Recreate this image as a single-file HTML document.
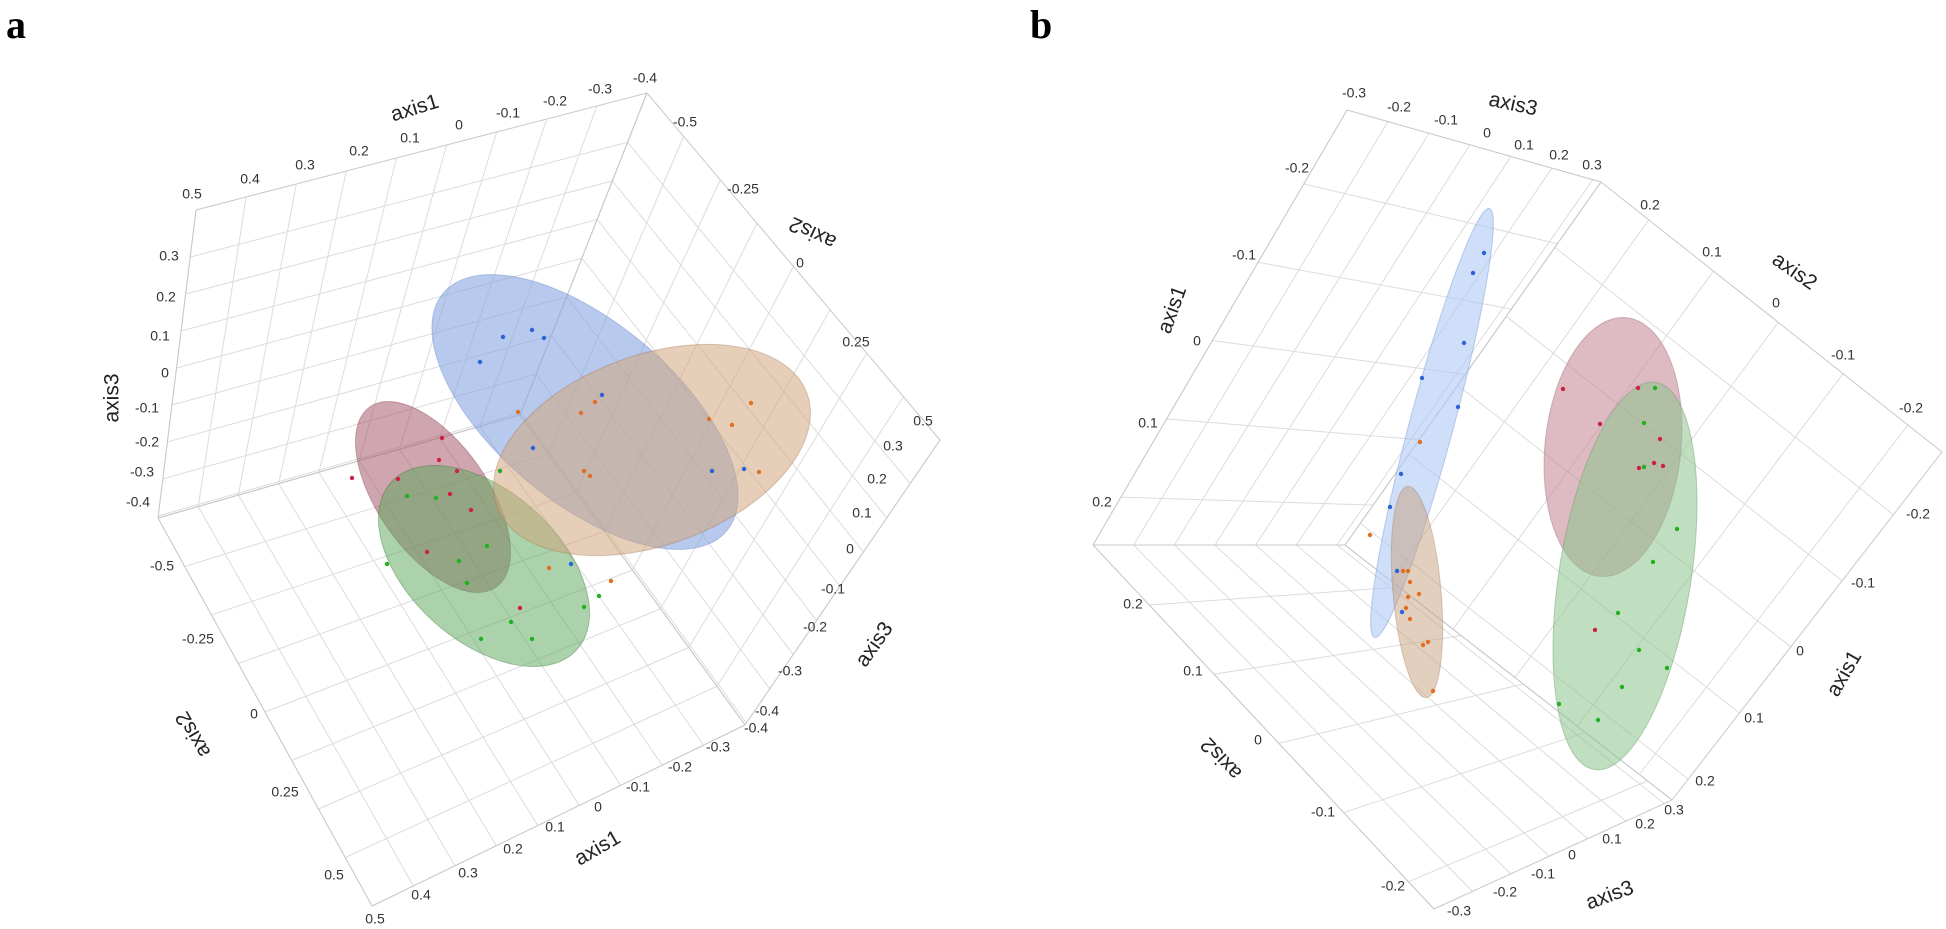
<!DOCTYPE html>
<html><head><meta charset="utf-8">
<style>
html,body{margin:0;padding:0;background:#fff;}
svg{display:block;}
text{font-family:"Liberation Sans",sans-serif;}
.t{font-size:14px;fill:#333;text-anchor:middle;dominant-baseline:middle;}
.ax{font-size:21px;fill:#222;text-anchor:middle;dominant-baseline:middle;}
.pl{font-family:"Liberation Serif",serif;font-weight:bold;font-size:40px;fill:#000;}
</style></head>
<body>
<svg id="s" width="1946" height="929" viewBox="0 0 1946 929" xmlns="http://www.w3.org/2000/svg">
<g id="grid" stroke="#dcdcdc" stroke-width="1" fill="none"></g>
<text class="pl" x="6" y="38">a</text>
<text class="pl" x="1030" y="38">b</text>

<!-- Panel a ellipsoids -->
<g stroke-width="1">
<ellipse cx="433" cy="497" rx="110" ry="55" transform="rotate(55 433 497)" fill="rgba(160,75,95,0.5)" stroke="rgba(120,50,60,0.35)"/>
<ellipse cx="484" cy="566" rx="125" ry="75" transform="rotate(42 484 566)" fill="rgba(90,165,90,0.5)" stroke="rgba(50,110,50,0.35)"/>
<ellipse cx="585" cy="412" rx="185" ry="90" transform="rotate(40 585 412)" fill="rgba(135,165,225,0.6)" stroke="rgba(90,120,190,0.35)"/>
<ellipse cx="652" cy="450" rx="165" ry="95" transform="rotate(-20 652 450)" fill="rgba(210,165,125,0.55)" stroke="rgba(160,110,80,0.35)"/>
</g>
<!-- Panel b ellipsoids -->
<g stroke-width="1">
<ellipse cx="1432" cy="423" rx="222" ry="22" transform="rotate(105 1432 423)" fill="rgba(175,200,245,0.6)" stroke="rgba(130,160,215,0.5)"/>
<ellipse cx="1417" cy="592" rx="106" ry="24" transform="rotate(85 1417 592)" fill="rgba(200,160,125,0.5)" stroke="rgba(160,130,100,0.4)"/>
<ellipse cx="1613" cy="447" rx="68" ry="130" transform="rotate(6 1613 447)" fill="rgba(195,130,145,0.55)" stroke="rgba(150,100,110,0.4)"/>
<ellipse cx="1625" cy="576" rx="66" ry="196" transform="rotate(9 1625 576)" fill="rgba(140,195,140,0.55)" stroke="rgba(100,150,100,0.4)"/>
</g>
<g id="dots"></g>

<!-- Panel a labels -->
<text class="ax" transform="translate(415,109) rotate(-17)">axis1</text>
<text class="t" x="192" y="195">0.5</text><text class="t" x="250" y="180">0.4</text><text class="t" x="305" y="166">0.3</text><text class="t" x="359" y="152">0.2</text><text class="t" x="410" y="139">0.1</text><text class="t" x="459" y="126">0</text><text class="t" x="508" y="114">-0.1</text><text class="t" x="555" y="102">-0.2</text><text class="t" x="600" y="90">-0.3</text><text class="t" x="645" y="79">-0.4</text>
<text class="ax" transform="translate(113,398) rotate(-90)">axis3</text>
<text class="t" x="169" y="257">0.3</text><text class="t" x="166" y="298">0.2</text><text class="t" x="160" y="337">0.1</text><text class="t" x="165" y="374">0</text><text class="t" x="147" y="409">-0.1</text><text class="t" x="147" y="443">-0.2</text><text class="t" x="142" y="473">-0.3</text><text class="t" x="138" y="503">-0.4</text>
<text class="ax" transform="translate(813,232) rotate(205)">axis2</text>
<text class="t" x="685" y="123">-0.5</text><text class="t" x="743" y="190">-0.25</text><text class="t" x="800" y="264">0</text><text class="t" x="856" y="343">0.25</text><text class="t" x="923" y="422">0.5</text>
<text class="ax" transform="translate(875,645) rotate(-55)">axis3</text>
<text class="t" x="893" y="447">0.3</text><text class="t" x="877" y="480">0.2</text><text class="t" x="862" y="514">0.1</text><text class="t" x="850" y="550">0</text><text class="t" x="833" y="590">-0.1</text><text class="t" x="815" y="628">-0.2</text><text class="t" x="790" y="672">-0.3</text><text class="t" x="767" y="712">-0.4</text>
<text class="ax" transform="translate(194,734) rotate(240)">axis2</text>
<text class="t" x="162" y="567">-0.5</text><text class="t" x="198" y="640">-0.25</text><text class="t" x="254" y="715">0</text><text class="t" x="285" y="793">0.25</text><text class="t" x="334" y="876">0.5</text>
<text class="ax" transform="translate(598,849) rotate(-30)">axis1</text>
<text class="t" x="375" y="920">0.5</text><text class="t" x="421" y="896">0.4</text><text class="t" x="468" y="874">0.3</text><text class="t" x="513" y="850">0.2</text><text class="t" x="555" y="828">0.1</text><text class="t" x="598" y="808">0</text><text class="t" x="638" y="788">-0.1</text><text class="t" x="680" y="768">-0.2</text><text class="t" x="718" y="748">-0.3</text><text class="t" x="756" y="729">-0.4</text>

<!-- Panel b labels -->
<text class="ax" transform="translate(1513,105) rotate(12)">axis3</text>
<text class="t" x="1354" y="94">-0.3</text><text class="t" x="1399" y="108">-0.2</text><text class="t" x="1446" y="121">-0.1</text><text class="t" x="1487" y="134">0</text><text class="t" x="1524" y="146">0.1</text><text class="t" x="1559" y="156">0.2</text><text class="t" x="1592" y="166">0.3</text>
<text class="ax" transform="translate(1173,310) rotate(-70)">axis1</text>
<text class="t" x="1297" y="169">-0.2</text><text class="t" x="1244" y="256">-0.1</text><text class="t" x="1197" y="342">0</text><text class="t" x="1148" y="424">0.1</text><text class="t" x="1102" y="503">0.2</text>
<text class="ax" transform="translate(1794,272) rotate(35)">axis2</text>
<text class="t" x="1650" y="206">0.2</text><text class="t" x="1712" y="253">0.1</text><text class="t" x="1776" y="304">0</text><text class="t" x="1843" y="356">-0.1</text><text class="t" x="1911" y="409">-0.2</text>
<text class="ax" transform="translate(1845,674) rotate(-60)">axis1</text>
<text class="t" x="1918" y="515">-0.2</text><text class="t" x="1863" y="584">-0.1</text><text class="t" x="1800" y="652">0</text><text class="t" x="1754" y="719">0.1</text><text class="t" x="1705" y="782">0.2</text>
<text class="ax" transform="translate(1222,758) rotate(227)">axis2</text>
<text class="t" x="1133" y="605">0.2</text><text class="t" x="1193" y="672">0.1</text><text class="t" x="1258" y="741">0</text><text class="t" x="1323" y="813">-0.1</text><text class="t" x="1393" y="887">-0.2</text>
<text class="ax" transform="translate(1610,896) rotate(-20)">axis3</text>
<text class="t" x="1674" y="811">0.3</text><text class="t" x="1645" y="825">0.2</text><text class="t" x="1612" y="840">0.1</text><text class="t" x="1572" y="856">0</text><text class="t" x="1543" y="875">-0.1</text><text class="t" x="1505" y="893">-0.2</text><text class="t" x="1459" y="912">-0.3</text>
</svg>
<script>
(function(){
var NS="http://www.w3.org/2000/svg",g=document.getElementById("grid");
function L(a,b,c){var l=document.createElementNS(NS,"line");l.setAttribute("x1",a[0]);l.setAttribute("y1",a[1]);l.setAttribute("x2",b[0]);l.setAttribute("y2",b[1]);if(c)l.setAttribute("stroke",c);g.appendChild(l);}
function P(p00,p10,p01,p11,u,v){return[(1-u)*(1-v)*p00[0]+u*(1-v)*p10[0]+(1-u)*v*p01[0]+u*v*p11[0],(1-u)*(1-v)*p00[1]+u*(1-v)*p10[1]+(1-u)*v*p01[1]+u*v*p11[1]];}
function wall(p00,p10,p01,p11,us,vs){
 us.forEach(function(u){L(P(p00,p10,p01,p11,u,0),P(p00,p10,p01,p11,u,1));});
 vs.forEach(function(v){L(P(p00,p10,p01,p11,0,v),P(p00,p10,p01,p11,1,v));});
 L(p00,p10,"#c8c8c8");L(p10,p11,"#c8c8c8");L(p11,p01,"#c8c8c8");L(p01,p00,"#c8c8c8");}
function rng(a,s,n){var r=[];for(var i=0;i<n;i++)r.push(a+s*i);return r;}
var TL=[196,210],T=[647,93],R=[940,440],BR=[745,725],B=[372,906],Lf=[158,518],C=[520,415];
var a1=rng(0,1/9,10),a3=rng(0.153,0.12,8),a2=rng(0,0.125,9);
wall(TL,T,Lf,C,a1,a3);
wall(T,R,C,BR,a2,a3);
wall(Lf,C,B,BR,a1,a2);
var bT=[1347,110],bTR=[1601,182],bR=[1942,452],bBR=[1672,800],bB=[1434,909],bL=[1093,545],bC=[1345,545];
var b3=rng(0,1/6.2,7),b1=rng(0.17,0.18,5);
wall(bT,bTR,bL,bC,b3,b1);
wall(bTR,bR,bC,bBR,rng(0.14,0.19,5),rng(0.18,0.19,5));
wall(bL,bC,bB,bBR,b3,rng(0.165,0.19,5));
var d=document.getElementById("dots");
function dots(arr,col){for(var i=0;i<arr.length;i+=2){var c=document.createElementNS(NS,"circle");c.setAttribute("cx",arr[i]);c.setAttribute("cy",arr[i+1]);c.setAttribute("r",2.2);c.setAttribute("fill",col);d.appendChild(c);}}
dots([503,337,532,330,544,338,480,362,602,395,533,448,712,471,744,469,571,564],"#2a62d8");
dots([518,412,595,402,581,413,709,419,732,425,751,403,584,471,590,476,759,472,549,568,611,581],"#e07020");
dots([442,438,439,460,457,471,398,479,352,478,450,494,471,510,427,552,520,608],"#d02040");
dots([407,496,436,498,487,546,459,561,387,564,467,583,500,471,599,596,511,622,481,639,532,639,584,607],"#20b020");
dots([1484,253,1473,273,1464,343,1422,378,1458,407,1401,474,1390,507,1397,571,1402,612],"#2a62d8");
dots([1420,442,1370,535,1403,571,1408,571,1410,582,1408,597,1419,594,1406,608,1410,619,1423,645,1428,642,1433,691],"#e07020");
dots([1563,389,1638,388,1600,424,1660,439,1654,463,1639,468,1663,466,1595,630],"#d02040");
dots([1655,388,1644,423,1644,467,1677,529,1653,562,1618,613,1639,650,1667,668,1622,687,1559,704,1598,720],"#20b020");
})();
</script>
</body></html>
